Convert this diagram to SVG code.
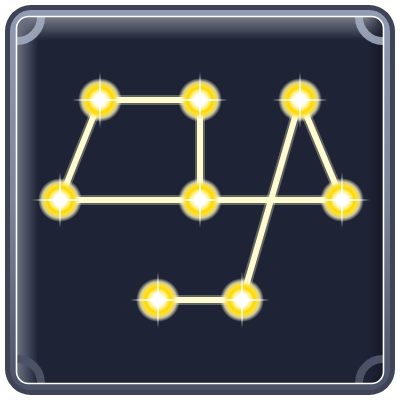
<svg xmlns="http://www.w3.org/2000/svg" width="400" height="400" viewBox="0 0 400 400">
<defs>
<style>
.edge{stroke:#fffbd0;stroke-width:6;stroke-linecap:round;fill:none}
.edgeglow{stroke:#fff8c0;stroke-opacity:0.3;stroke-width:10;stroke-linecap:round;fill:none}
.ring{fill:none;stroke-width:8}
</style>
<linearGradient id="band" x1="0" y1="0" x2="0" y2="1">
<stop offset="0" stop-color="#929bb2"/>
<stop offset="0.5" stop-color="#7d8599"/>
<stop offset="1" stop-color="#4c5266"/>
</linearGradient>
<linearGradient id="topglow" x1="0" y1="0" x2="0" y2="1">
<stop offset="0" stop-color="#7c808c" stop-opacity="1"/>
<stop offset="1" stop-color="#7c808c" stop-opacity="0"/>
</linearGradient>
<linearGradient id="leftglow" x1="0" y1="0" x2="1" y2="0">
<stop offset="0" stop-color="#6e7484" stop-opacity="1"/>
<stop offset="1" stop-color="#6e7484" stop-opacity="0"/>
</linearGradient>
<linearGradient id="rightglow" x1="1" y1="0" x2="0" y2="0">
<stop offset="0" stop-color="#141826" stop-opacity="0.8"/>
<stop offset="1" stop-color="#141826" stop-opacity="0"/>
</linearGradient>
<radialGradient id="glow">
<stop offset="0" stop-color="#ffffff"/>
<stop offset="0.25" stop-color="#ffffff"/>
<stop offset="0.42" stop-color="#fff080"/>
<stop offset="0.55" stop-color="#ffd800"/>
<stop offset="0.68" stop-color="#ffe030"/>
<stop offset="0.82" stop-color="#fff6b0" stop-opacity="0.8"/>
<stop offset="1" stop-color="#fffbe0" stop-opacity="0"/>
</radialGradient>
<clipPath id="panelclip"><rect x="16.5" y="16.5" width="367" height="367" rx="12"/></clipPath>
<g id="node">
<circle r="22" fill="url(#glow)"/>
<path d="M-28,0 L-4,-1.2 L0,-3 L4,-1.2 L28,0 L4,1.2 L0,3 L-4,1.2 Z" fill="#ffffff"/>
<path d="M0,-28 L-1.2,-4 L0,0 L1.2,-4 Z M0,28 L-1.2,4 L0,0 L1.2,4 Z" fill="#ffffff"/>
</g>
</defs>
<g id="frame">
<rect x="5" y="5" width="390" height="390" rx="26" fill="#3e4357"/>
<rect x="10" y="10" width="380" height="380" rx="21" fill="url(#band)"/>
<rect x="16.5" y="16.5" width="367" height="367" rx="12" fill="#1e2336"/>
<g clip-path="url(#panelclip)">
<rect x="16" y="16" width="368" height="24" fill="url(#topglow)"/>
<rect x="16" y="16" width="22" height="368" fill="url(#leftglow)"/>
<rect x="366" y="16" width="18" height="368" fill="url(#rightglow)"/>
<circle class="ring" cx="17" cy="17" r="24" stroke="#a8b0c6" stroke-opacity="0.85"/>
<circle class="ring" cx="383" cy="17" r="24" stroke="#a8b0c6" stroke-opacity="0.85"/>
<circle class="ring" cx="17" cy="383" r="24" stroke="#4c5266"/>
<circle class="ring" cx="383" cy="383" r="24" stroke="#4c5266"/>
</g>
<rect x="16.5" y="16.5" width="367" height="367" rx="12" fill="none" stroke="#ffffff" stroke-width="1.6"/>
</g>
<g id="connectors">
<g class="edgeglow">
<line x1="100" y1="100" x2="200" y2="100"/>
<line x1="100" y1="100" x2="60" y2="200"/>
<line x1="200" y1="100" x2="200" y2="200"/>
<line x1="60" y1="200" x2="342" y2="200"/>
<line x1="300" y1="100" x2="342" y2="200"/>
<line x1="300" y1="100" x2="242" y2="300"/>
<line x1="158" y1="300" x2="242" y2="300"/>
</g>
<g class="edge">
<line x1="100" y1="100" x2="200" y2="100"/>
<line x1="100" y1="100" x2="60" y2="200"/>
<line x1="200" y1="100" x2="200" y2="200"/>
<line x1="60" y1="200" x2="342" y2="200"/>
<line x1="300" y1="100" x2="342" y2="200"/>
<line x1="300" y1="100" x2="242" y2="300"/>
<line x1="158" y1="300" x2="242" y2="300"/>
</g>
</g>
<g id="n1"><use href="#node" x="100" y="100"/></g>
<g id="n2"><use href="#node" x="200" y="100"/></g>
<g id="n3"><use href="#node" x="300" y="100"/></g>
<g id="n4"><use href="#node" x="60" y="200"/></g>
<g id="n5"><use href="#node" x="200" y="200"/></g>
<g id="n6"><use href="#node" x="342" y="200"/></g>
<g id="n7"><use href="#node" x="158" y="300"/></g>
<g id="n8"><use href="#node" x="242" y="300"/></g>
</svg>
